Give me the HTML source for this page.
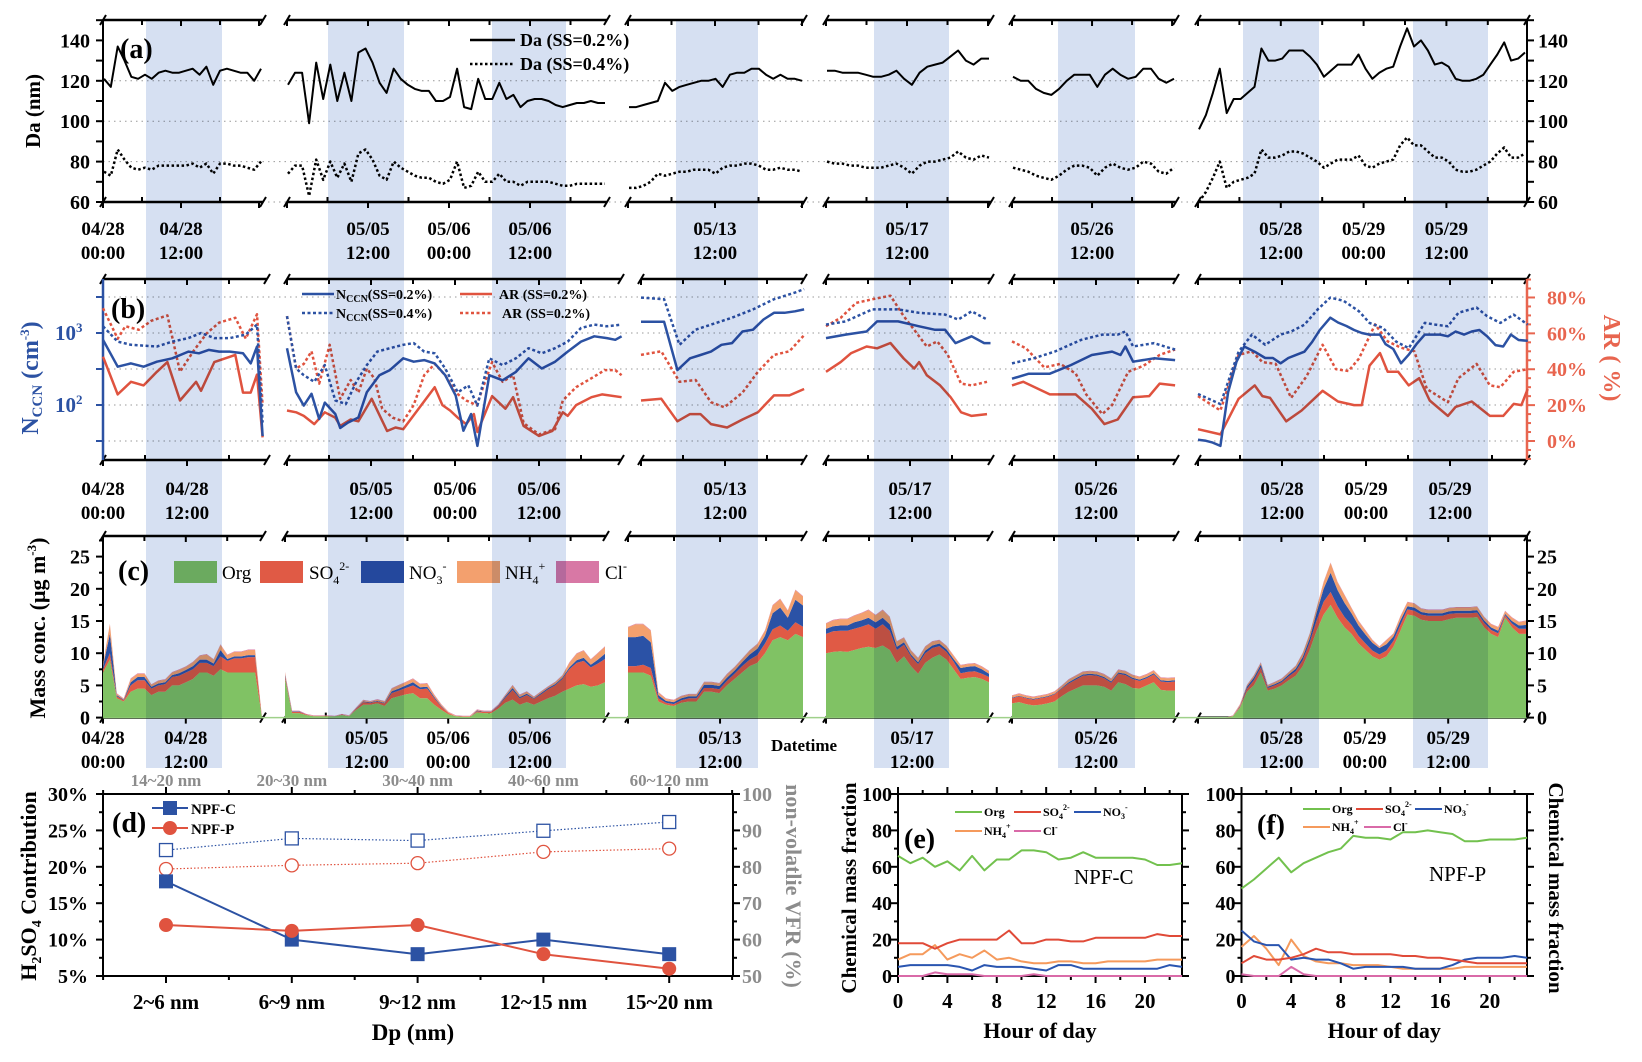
<!DOCTYPE html>
<html><head><meta charset="utf-8"><style>
html,body{margin:0;padding:0;background:#fff;}
svg{display:block;font-family:"Liberation Serif",serif;font-weight:bold;}
</style></head><body>
<svg id="chart" width="1642" height="1062" viewBox="0 0 1642 1062" xmlns="http://www.w3.org/2000/svg"></svg>
<script>
// ===== Panel (a) data: Da (nm), hourly per segment =====
const daSS02 = [
 [121,117,137,130,122,121,123,121,124,125,124,124,125,126,123,127,118,125,126,125,124,124,120,126],
 [118,124,124,99,129,111,128,110,124,110,134,136,129,119,114,126,121,118,116,115,115,110,110,112,126,107,106,121,111,111,119,111,113,107,110,111,111,110,108,107,108,109,109,110,109,109],
 [107,107,108,109,110,119,115,117,118,119,120,120,121,117,123,124,124,126,126,123,121,123,121,121,120],
 [125,125,124,124,124,123,122,122,123,125,121,118,124,127,128,129,132,135,130,128,131,131],
 [122,120,120,116,114,113,116,120,123,123,123,117,123,126,123,121,122,126,126,121,119,121],
 [96,103,114,126,104,111,111,114,117,136,130,130,131,135,135,135,132,128,122,125,128,128,128,133,126,121,124,126,127,137,146,137,140,135,128,129,127,121,120,120,121,123,128,133,139,130,131,134]
];
const daSS04 = [
 [75,73,86,81,77,76,77,76,78,78,78,78,78,79,77,79,74,79,79,78,78,77,76,80],
 [74,78,78,63,81,71,80,72,79,70,84,86,81,73,71,80,77,75,73,72,72,70,69,71,80,67,68,75,70,70,74,70,70,68,70,70,70,70,69,68,68,69,69,69,69,69],
 [67,67,68,70,74,73,74,75,75,76,76,76,74,77,78,78,79,79,78,76,76,77,76,76,75],
 [80,79,79,78,78,77,77,77,78,79,77,74,78,80,80,81,82,85,82,81,83,82],
 [77,76,75,73,72,71,73,76,78,78,77,73,77,79,77,76,77,80,79,75,74,77],
 [60,65,72,80,67,70,71,72,74,86,82,82,83,85,85,84,82,80,77,79,81,81,81,83,78,77,79,80,81,88,92,88,88,85,82,82,80,76,75,75,76,78,80,84,87,82,82,84]
];
// ===== Panel (b) data: [hour since segment start, value] =====
const nccn02 = [
 [[0,805],[2.1,340],[4,378],[5.8,340],[7.7,400],[9.9,445],[12.2,552],[13.7,522],[15.1,582],[16.6,552],[18.1,552],[20,522],[21.1,378],[22,650],[22.8,37]],
 [[0,615],[1.3,150],[2.4,98],[3.5,143],[4.6,64],[5.4,108],[6.9,75],[7.6,48],[8.7,57],[10.2,67],[11.4,150],[13.2,259],[14.7,305],[16.6,445],[18.1,400],[19.6,421],[21.1,378],[22.6,259],[24.1,135],[25.2,44],[26.3,75],[27.2,27],[28.9,259],[30.8,220],[32.7,288],[34.5,445],[36.4,321],[38.3,400],[40.1,552],[42,760],[43.9,900],[45.7,850],[46.9,805],[47.8,900]],
 [[0,1430],[3.3,1430],[5.2,305],[7,445],[8.5,495],[10,552],[11.5,685],[13,723],[14.5,1050],[16,1110],[17.5,1540],[19,1910],[20.5,1910],[22,2000],[23.3,2130]],
 [[0,850],[2.8,950],[5.8,1050],[7.3,1450],[10.3,1450],[13.3,1240],[15.5,1110],[17,1110],[18.5,723],[20.8,900],[22.6,723],[23.5,723]],
 [[0,232],[2.4,272],[5.4,272],[8.4,358],[11.4,495],[14.3,552],[15.5,495],[16.2,650],[17.3,400],[20.3,445],[23.3,420]],
 [[0,33],[1,32],[2.1,30],[3.2,27],[4.3,150],[5.5,400],[6.6,650],[8.1,550],[9.6,450],[10.7,450],[11.8,380],[12.9,450],[14.1,500],[15.2,550],[16.3,750],[17.4,1100],[18.9,1630],[20,1400],[21.2,1250],[22.3,1100],[23.4,1000],[24.5,950],[26,950],[26.8,700],[27.9,600],[29,380],[30.1,500],[31.2,700],[32.4,950],[33.5,950],[34.6,950],[35.7,900],[36.8,1050],[38,950],[39.1,1050],[40.2,1100],[41.3,900],[42.5,680],[43.6,650],[44.7,950],[45.8,800],[47.1,780]]
];
const nccn04 = [
 [[0,1240],[2.1,760],[4,685],[7.7,650],[9.9,760],[12.2,850],[14,1000],[15.9,850],[18.1,850],[20.4,950],[22,1310],[22.8,57]],
 [[0,1715],[1.3,321],[2.4,259],[3.9,210],[5.4,358],[6.9,116],[8.4,103],[9.9,210],[11.4,358],[12.9,552],[14.7,615],[16.6,685],[18.1,723],[19.6,552],[21.1,522],[22.6,321],[24.4,150],[25.9,187],[27.2,98],[28.9,445],[30.8,358],[32.7,445],[34.5,615],[36.4,522],[38.3,615],[40.1,760],[42,1175],[43.9,1310],[45.7,1240],[47.8,1310]],
 [[0,3100],[3.3,2950],[5.5,685],[7.8,1110],[10,1310],[13,1630],[16,2130],[19,2950],[22,3640],[23.3,4070]],
 [[0,1310],[2.8,1450],[6.6,2130],[10.3,2130],[13.3,1910],[17,1800],[18.9,1540],[20.8,2000],[23,1540]],
 [[0,378],[3.1,445],[6.1,552],[9.9,805],[12.9,950],[15.1,950],[16.2,1050],[17.3,650],[20.3,723],[22.6,615],[23.3,590]],
 [[0,142],[3.2,103],[5.8,550],[7.7,950],[9.6,685],[11.8,950],[13.3,1050],[15.2,1300],[17.1,2130],[18.9,3100],[20.8,2800],[23,2000],[24.5,1380],[26.4,1180],[28.3,760],[30.1,615],[32.4,1380],[33.9,1310],[35.7,1240],[37.2,1910],[39.8,2250],[41.3,1710],[43.2,1380],[45.1,1800],[47.1,1310]]
];
const ar02 = [
 [[0,47],[2.1,26],[4,33],[5.8,31],[7.7,38.6],[9.2,44],[11,22.6],[13.3,33],[14,28],[15.9,44],[18.9,48],[20,27],[21.1,27],[22,37],[22.8,2]],
 [[0,17],[1.3,16],[2.4,14],[3.9,9.4],[5.4,16],[6.9,13],[7.6,8.4],[9.1,12],[10.2,11],[12.1,23.5],[14.3,5.6],[15.5,7.5],[16.6,6.6],[18.8,18],[21.1,30],[22.2,20],[23.3,17],[24.4,13],[25.6,9.4],[26.7,15],[27.2,5],[29.3,25],[31.2,18],[32.3,24.4],[33.8,8.4],[36,2.8],[37.9,5.6],[39.4,16],[40.1,14],[41.3,20],[43.5,24.4],[45,26],[47.8,24.4]],
 [[0,22.6],[2.9,23.5],[5.2,11],[7,15],[8.5,15],[10,9.4],[12.3,7.5],[14.5,12],[16.7,16],[19,25.4],[21.2,25.4],[23.3,29]],
 [[0,38.6],[2.1,44],[3.6,49],[5.8,52.7],[7.3,51.7],[9.2,54.6],[11.1,46],[12.6,40.4],[13.3,44],[14.4,36.7],[16.3,31],[17.8,24.4],[19.3,16],[20.8,14],[23,15]],
 [[0,31],[1.6,33],[5.4,26],[9.1,26],[11.4,18],[13.2,9.4],[15.1,12],[17.3,24.4],[19.6,25],[21.1,32],[23.3,31]],
 [[0,6.6],[3.2,3.7],[5.8,23.5],[8.1,31],[9.2,25],[10.3,24],[12.6,11],[14.8,17],[17.8,28],[20,22],[22.3,20],[23.4,20],[24.5,42],[26,49],[27.1,38.6],[28.6,38.6],[30.1,31],[31.6,35],[33.1,22.6],[35.7,14],[36.8,19],[39.1,22],[41.7,14],[43.6,14],[45.1,20.7],[46.2,20],[47.1,29]]
];
const ar04 = [
 [[0,74],[2.1,57],[3.2,64],[5.1,62],[6.9,67],[9.2,70],[11,38.6],[12.9,50],[14.8,60],[16.6,66],[18.9,68.7],[20.4,57],[22,70.6],[22.8,20]],
 [[0,69.6],[1.3,40.4],[2.4,43],[3.5,50],[4.6,32],[6.1,53.6],[7.6,23.5],[9.1,34],[10.2,27],[11.4,40.4],[12.5,34.8],[13.6,18],[15.1,13],[16.6,11],[18.1,20],[19.6,36.7],[21.1,43],[22.6,36.7],[24.1,27],[25.6,22.6],[27.1,20],[29.3,44],[30.8,33],[32.3,36.7],[33.8,10],[36,3.7],[38.3,6.6],[39.4,22.6],[41.3,30],[43.5,35],[45.4,39.5],[46.9,39.5],[47.8,36.7]],
 [[0,48],[2.9,50],[5.5,33],[7.8,34],[10,21.6],[11.9,18.8],[14.5,27],[16.7,38.6],[19,48],[21.2,50],[23.3,59]],
 [[0,64],[2.1,68.7],[4.3,77],[6.6,79],[9.2,81],[11.1,69.6],[12.6,62],[14.4,52.7],[15.9,55.5],[17.4,48],[19.3,32],[20.8,31],[23,33]],
 [[0,55.5],[2,51.7],[4.6,41],[6.9,43],[9.1,37.6],[10.6,26],[12.9,15],[14.3,20],[16.6,38.6],[18.8,42],[21.1,48],[23.3,51]],
 [[0,25],[3.2,17],[5.8,48],[7.7,50],[9.2,44],[11.1,43],[13.3,24],[15.5,36],[17.8,53.6],[19.7,40],[21.5,39],[23,46],[25.3,65],[27.1,55.5],[29,52],[30.9,50],[32.7,29],[35.7,21.6],[37.2,35],[39.8,43],[41.7,31],[43.2,30],[45.1,38.6],[47.1,40]]
];
// ===== Panel (c) data: mass conc (ug/m3), hourly per segment =====
const orgC = [
 [7,9,3,2.5,4,4.5,4.5,3.5,4,4,5,5,5.5,6,7,7,6.5,7.5,7,7,7,7,7,0],
 [6,0.7,0.7,0.4,0.2,0.2,0.2,0.2,0.4,0.2,1.2,2,2,2.2,1.8,3,3.3,3.6,3.8,3,3,2,1.2,0.5,0.2,0.1,0.1,0.8,0.7,0.7,1.4,2.3,2.8,2,2.4,2,2.5,3,3.4,4,4.5,5,5.2,4.8,5,5.5],
 [7,7,7,6.5,2.5,2,1.8,2.3,2.5,2.5,4,4,3.8,5,6,7,8,8.5,10,12,12.5,12,13,12.5],
 [10,10.2,10.3,10.2,10.5,10.8,11,10.8,11.2,10.5,8.5,9.5,8,6.8,8.5,9.3,9.8,9,7.5,6,6.2,6.3,6,5.5],
 [2.2,2.4,2.1,1.9,2,2.2,2.5,3.3,4,4.5,5,5,5,4.8,4.2,5.5,5.2,4.6,4.5,5,5.5,4.3,4.2,4.2],
 [0,0,0,0,0,0.2,1.5,4,5,7,4.2,4.5,5,5.8,6.5,8,10.5,13.5,16,17.5,15.5,14,13,11.5,10.5,9.5,9,9.5,11,13.5,16,15.8,15.2,15,15,15,15.3,15.5,15.5,15.5,15.6,14,13,12.5,15.5,14,13,13]
];
const so4C = [
 [0.5,1,0.3,0.2,1,1.3,1.3,1,1,1.2,1.3,1.5,1.5,1.5,1.5,1.5,1.5,2,1.8,2.2,2.2,2.4,2.4,0],
 [0.4,0.2,0.2,0.1,0,0,0,0,0.1,0,0.2,0.4,0.3,0.3,0.4,0.8,0.9,1,1.2,1.4,1.5,1,0.5,0.2,0,0,0,0.2,0.2,0.2,0.4,0.8,1.5,1,1.1,0.9,1.1,1.4,1.6,2,3,3.5,3.6,3,3.4,3.6],
 [1,1,1.2,1.2,0.5,0.3,0.3,0.4,0.5,0.5,0.6,0.6,0.6,0.7,0.8,1,1,1.2,1.5,1.7,1.8,1.5,1.8,1.6],
 [3,3.2,3.2,3.3,3.3,3.3,3.5,3,3.3,3,2,1.8,1.5,1.5,1.5,1.5,1.3,1.2,1.2,0.9,0.9,0.9,0.8,0.8],
 [0.8,0.9,0.9,0.9,1,1,1.1,1.2,1.3,1.4,1.5,1.6,1.5,1.3,1.2,1.3,1.4,1.4,1.2,1.1,1.2,1.3,1.3,1.4],
 [0,0,0,0,0,0,0.2,0.5,0.8,0.8,0.4,0.5,0.5,0.6,0.7,0.9,1.2,1.6,2,2,1.8,1.6,1.4,1.2,1,0.9,0.8,0.9,0.9,0.9,0.8,0.8,0.8,0.8,0.8,0.8,0.8,0.7,0.7,0.7,0.7,0.7,0.6,0.6,0.4,0.6,0.8,0.8]
];
const no3C = [
 [0.5,3,0.2,0.1,0.5,0.5,0.5,0.3,0.3,0.3,0.3,0.4,0.4,0.5,0.5,0.5,0.4,1,0.3,0.3,0.3,0.3,0.3,0],
 [0.3,0.1,0.1,0,0,0,0,0,0,0,0.05,0.1,0.1,0.1,0.1,0.3,0.3,0.4,0.5,0.3,0.3,0.2,0.1,0,0,0,0,0.1,0.05,0.05,0.1,0.2,0.3,0.2,0.2,0.1,0.2,0.2,0.2,0.2,0.3,0.4,0.5,0.4,0.6,0.8],
 [4.5,4.5,4.5,4,0.5,0.3,0.3,0.3,0.3,0.3,0.5,0.5,0.5,0.5,0.5,0.6,0.8,1,1.2,2.5,2.8,2,3.5,3.3],
 [0.8,0.8,0.8,0.8,1,1,1,1,1,1,0.5,0.4,0.3,0.3,0.4,0.4,0.4,0.4,0.4,0.8,0.8,0.8,0.7,0.5],
 [0.1,0.1,0.1,0.1,0.1,0.1,0.1,0.1,0.2,0.2,0.2,0.2,0.2,0.2,0.2,0.2,0.2,0.2,0.2,0.2,0.2,0.2,0.2,0.2],
 [0,0,0,0,0,0,0.1,0.3,0.4,0.4,0.2,0.2,0.2,0.3,0.4,0.5,0.6,1.2,2,3,2.5,2.2,1.8,1.6,1.4,1.2,1,1,0.7,0.7,0.5,0.5,0.4,0.4,0.4,0.4,0.4,0.4,0.4,0.4,0.4,0.4,0.4,0.4,0.2,0.4,0.5,0.6]
];
const nh4C = [
 [0.3,1.5,0.2,0.1,0.5,0.5,0.5,0.3,0.4,0.4,0.4,0.5,0.5,0.6,0.6,0.8,0.6,0.8,0.6,0.7,0.7,0.8,0.8,0],
 [0.3,0,0,0,0.1,0.1,0.1,0,0,0.1,0.05,0.2,0.1,0.2,0.2,0.4,0.5,0.5,0.5,0.5,0.5,0.3,0.2,0.1,0.1,0.1,0.1,0.1,0.05,0.05,0.1,0.2,0.4,0.3,0.3,0.2,0.2,0.2,0.3,0.3,0.7,1,1.1,0.8,1,1.1],
 [1.5,2,1.8,1.8,0.4,0.3,0.3,0.3,0.3,0.3,0.4,0.4,0.4,0.5,0.5,0.5,0.6,0.7,0.8,1.2,1.3,1.1,1.5,1.4],
 [0.8,0.9,1,1,1,1.1,1.2,1.1,1.2,1.1,0.8,0.7,0.6,0.6,0.6,0.6,0.5,0.5,0.5,0.4,0.4,0.4,0.4,0.4],
 [0.3,0.3,0.3,0.3,0.3,0.3,0.3,0.3,0.4,0.4,0.4,0.4,0.4,0.4,0.4,0.4,0.4,0.4,0.4,0.4,0.4,0.4,0.4,0.4],
 [0,0,0,0,0,0.1,0.2,0.2,0.3,0.3,0.2,0.3,0.3,0.3,0.4,0.6,0.7,0.7,1,1.5,1.2,1.2,0.8,0.7,0.6,0.4,0.2,0.6,0.4,0.6,0.6,0.6,0.5,0.5,0.5,0.5,0.5,0.5,0.5,0.5,0.5,0.5,0.5,0.5,0.4,0.5,0.5,0.6]
];
const clC = [[0.1,0.3,0.1,0.1,0.1,0.1,0.1,0.1,0.1,0.1,0.1,0.1,0.1,0.1,0.1,0.1,0.1,0.1,0.1,0.1,0.1,0.1,0.1,0]];
// ===== Panel (d) data =====
const dpCats = ['2~6 nm','6~9 nm','9~12 nm','12~15 nm','15~20 nm'];
const topCats = ['14~20 nm','20~30 nm','30~40 nm','40~60 nm','60~120 nm'];
const npfC = [18,10,8,10,8];
const npfP = [12,11.2,12,8,6];
const vfrC = [84.6,87.8,87.2,89.9,92.3];
const vfrP = [79.4,80.4,81,84.1,85];
// ===== Panel (e)/(f) data: hour 0..23 =====
const eOrg = [66,62,65,60,63,58,66,58,64,64,69,69,68,64,65,68,65,65,65,65,64,61,61,62];
const eSO4 = [18,18,18,15,18,20,20,20,20,25,18,18,20,20,19,19,21,21,21,21,21,23,22,22];
const eNO3 = [5,6,6,6,6,5,3,6,5,5,5,4,3,6,6,4,4,4,4,4,4,4,6,5];
const eNH4 = [9,12,12,17,9,12,10,14,9,10,8,7,7,8,8,7,7,8,8,8,8,9,9,9];
const eCl  = [0,0,0,2,1,1,1,0,0,0,0,1,0,0,0,0,0,0,0,0,0,0,0,0];
const fOrg = [48,53,59,65,57,62,65,68,70,77,76,76,75,79,79,80,79,78,74,74,75,75,75,76];
const fSO4 = [7,11,9,9,10,12,15,13,13,12,12,12,12,11,11,10,10,9,8,7,7,7,7,7];
const fNO3 = [25,19,17,17,9,10,9,9,7,4,5,5,5,5,4,4,4,6,9,10,10,10,11,10];
const fNH4 = [16,22,15,6,20,11,8,7,7,6,6,6,5,4,4,4,4,4,5,5,5,5,5,5];
const fCl  = [1,0,0,0,5,1,0,0,0,0,0,0,0,0,0,0,0,0,0,0,0,0,0,0];
const timeLabels = [[[0,'04/28','00:00'],[12,'04/28','12:00']],[[12,'05/05','12:00'],[24,'05/06','00:00'],[36,'05/06','12:00']],[[12,'05/13','12:00']],[[12,'05/17','12:00']],[[12,'05/26','12:00']],[[12,'05/28','12:00'],[24,'05/29','00:00'],[36,'05/29','12:00']]];

// ===== layout =====
const NS='http://www.w3.org/2000/svg';
const svg=document.getElementById('chart');
const BLUE='#2c52a3', RED='#e0533f', ARC='#e8654f', GRAY='#8c8c8c';
function mk(tag, attrs, name, parent){
  const el=document.createElementNS(NS,tag);
  for(const k in attrs) el.setAttribute(k,attrs[k]);
  
  
  (parent||svg).appendChild(el);
  return el;
}
function txt(x,y,html,attrs,name){ const t=mk('text',Object.assign({x:x,y:y},attrs||{}),name); t.innerHTML=html; return t; }
function ln(x1,y1,x2,y2,c,w,name,dash){ const a={x1:x1,y1:y1,x2:x2,y2:y2,stroke:c,'stroke-width':w}; if(dash)a['stroke-dasharray']=dash; return mk('line',a,name); }
function poly(pts,c,w,name,dash){ const a={points:pts.map(p=>p[0].toFixed(1)+','+p[1].toFixed(1)).join(' '),fill:'none',stroke:c,'stroke-width':w,'stroke-linejoin':'round'}; if(dash)a['stroke-dasharray']=dash; return mk('polyline',a,name); }

const segA={x0:[103,287,628,826,1012,1198],x1:[263,607,804,991,1176,1527],pph:[6.5,6.75,7.25,6.75,6.67,6.9]};
const segB={x0:[103,287,641,826,1012,1198],x1:[267,621,804,991,1176,1527],pph:[7,7,7,7,7,7]};
const segC={x0:[103,285,628,826,1012,1198],x1:[263,606,804,990,1176,1527],pph:[6.9,6.8,7.67,7.17,7,6.95]};
const shadeX=[[146,222],[328,404],[492,566],[676,758],[874,949],[1058,1135],[1243,1319],[1413,1488]];

// gridlines a,b
const ya=v=>202-(v-60)*2.02;
[60,80,100,120].forEach(v=>ln(103,ya(v),1540,ya(v),'#999',1,'gridline-a','1.5,4'));
const yb=v=>333-(Math.log10(v)-3)*72;
const yar=v=>441-v*1.794;
[3.5,3,2.5,2,1.5].forEach(e=>ln(103,333-(e-3)*72,1527,333-(e-3)*72,'#999',1,'gridline-b','1.5,4'));

// time axes
function segAxes(seg,top,bot,labY,pname){
  for(let s=0;s<6;s++){
    const x0=seg.x0[s],x1=seg.x1[s];
    [top,bot].forEach(y=>{
      ln(x0,y,x1,y,'#000',2.5,pname+'-axis-line');
      ln(x0-3,y+5,x0+3,y-5,'#000',2,pname+'-axis-break');
      ln(x1-3,y+5,x1+3,y-5,'#000',2,pname+'-axis-break');
    });
    for(let h=0;x0+h*seg.pph[s]<=x1-2;h+=6){
      const x=x0+h*seg.pph[s];
      if(h%12===0){ ln(x,bot,x,bot+6,'#000',2,pname+'-tick'); ln(x,top,x,top+6,'#000',2,pname+'-tick'); }
      else { ln(x,bot,x,bot-5,'#000',2,pname+'-tick'); ln(x,top,x,top+5,'#000',2,pname+'-tick'); }
    }
    timeLabels[s].forEach(t=>{
      const x=x0+t[0]*seg.pph[s];
      txt(x,labY,t[1],{'font-size':19,'text-anchor':'middle'},pname+'-date-label');
      txt(x,labY+24,t[2],{'font-size':19,'text-anchor':'middle'},pname+'-time-label');
    });
  }
}
segAxes(segA,20,202,235,'panel-a');
segAxes(segB,279,460,495,'panel-b');
segAxes(segC,536,717.6,744,'panel-c');

// ===== panel a =====
ln(103,20,103,202,'#000',2,'a-left-axis');
ln(1527,20,1527,202,'#000',2,'a-right-axis');
for(let v=60;v<=150;v+=10){
  const y=ya(v), maj=v%20===0;
  ln(96,y,103,y,'#000',2,'a-left-tick'); ln(1527,y,1534,y,'#000',2,'a-right-tick');
  if(maj){ txt(90,y+7,v,{'font-size':20,'text-anchor':'end'},'a-left-tick-label'); txt(1538,y+7,v,{'font-size':20},'a-right-tick-label'); }
}
function aX(s,i,n){ return segA.x0[s]+1+i*(segA.x1[s]-segA.x0[s]-3)/(n-1); }
daSS02.forEach((arr,s)=>poly(arr.map((v,i)=>[aX(s,i,arr.length),ya(v)]),'#000',2,'da-ss02-line'));
daSS04.forEach((arr,s)=>poly(arr.map((v,i)=>[aX(s,i,arr.length),ya(v)]),'#000',2.5,'da-ss04-line','2.5,2.5'));
txt(33,111,'Da (nm)',{'font-size':21,'text-anchor':'middle',transform:'rotate(-90 33 111)',dy:7},'a-y-axis-title');
txt(120,58,'(a)',{'font-size':28},'panel-a-label');
ln(470,40,515,40,'#000',2.5,'legend-da02-line');
txt(520,46,'Da (SS=0.2%)',{'font-size':18},'legend-da02-label');
ln(470,64,515,64,'#000',2.5,'legend-da04-line','2.5,2.5');
txt(520,70,'Da (SS=0.4%)',{'font-size':18},'legend-da04-label');

// ===== panel b =====
ln(103,279,103,460,BLUE,2.5,'b-left-axis');
ln(1527,279,1527,460,ARC,2.5,'b-right-axis');
[3.5,3,2.5,2,1.5].forEach(e=>{ ln(96,333-(e-3)*72,103,333-(e-3)*72,BLUE,2,'b-left-tick'); });
[[3,'10<tspan dy="-8" font-size="13">3</tspan>'],[2,'10<tspan dy="-8" font-size="13">2</tspan>']].forEach(t=>txt(55,333-(t[0]-3)*72+7,t[1],{'font-size':21,fill:BLUE},'b-left-tick-label'));
for(let v=-10;v<=90;v+=5){ const y=yar(v); if(y<279||y>460)continue; ln(1527,y,v%20===0?1535:1531,y,ARC,2,'b-right-tick'); }
[0,20,40,60,80].forEach(v=>txt(1547,yar(v)+7,v+'%',{'font-size':20,fill:ARC},'b-right-tick-label'));
function bX(s,h){ return segB.x0[s]+h*segB.pph[s]; }
function clampY(y){ return Math.max(281,Math.min(458,y)); }
ar04.forEach((a,s)=>poly(a.map(p=>[bX(s,p[0]),clampY(yar(p[1]))]),RED,2.5,'ar-ss04-line','3,2.5'));
ar02.forEach((a,s)=>poly(a.map(p=>[bX(s,p[0]),clampY(yar(p[1]))]),RED,2.5,'ar-ss02-line'));
nccn04.forEach((a,s)=>poly(a.map(p=>[bX(s,p[0]),clampY(yb(p[1]))]),BLUE,2.5,'nccn-ss04-line','3,2.5'));
nccn02.forEach((a,s)=>poly(a.map(p=>[bX(s,p[0]),clampY(yb(p[1]))]),BLUE,2.5,'nccn-ss02-line'));
txt(0,0,'N<tspan font-size="15" dy="4">CCN</tspan><tspan dy="-4"> (cm</tspan><tspan font-size="13" dy="-9">-3</tspan><tspan dy="9">)</tspan>',{'font-size':24,fill:BLUE,'text-anchor':'middle',transform:'translate(38,378) rotate(-90)'},'b-left-axis-title');
txt(0,0,'AR ( %)',{'font-size':24,fill:ARC,'text-anchor':'middle',transform:'translate(1604,358) rotate(90)'},'b-right-axis-title');
txt(111,318,'(b)',{'font-size':28},'panel-b-label');
ln(302,294,334,294,BLUE,2.5,'legend-nccn02-line');
txt(336,299,'N<tspan font-size="10" dy="3">CCN</tspan><tspan dy="-3">(SS=0.2%)</tspan>',{'font-size':14},'legend-nccn02-label');
ln(302,313,334,313,BLUE,2.5,'legend-nccn04-line','3,2.5');
txt(336,318,'N<tspan font-size="10" dy="3">CCN</tspan><tspan dy="-3">(SS=0.4%)</tspan>',{'font-size':14},'legend-nccn04-label');
ln(460,294,492,294,RED,2.5,'legend-ar02-line');
txt(499,299,'AR (SS=0.2%)',{'font-size':14},'legend-ar02-label');
ln(460,313,492,313,RED,2.5,'legend-ar04-line','3,2.5');
txt(502,318,'AR (SS=0.2%)',{'font-size':14},'legend-ar04-label');

// ===== panel c =====
const yc=v=>717.6-v*6.44;
ln(103,717.6,1527,717.6,'#9fd08a',1.5,'c-baseline');
ln(103,536,103,717.6,'#000',2,'c-left-axis');
ln(1527,536,1527,717.6,'#000',2,'c-right-axis');
for(let v=0;v<=27.5;v+=2.5){ const y=yc(v), maj=v%5===0;
  ln(maj?96:99,y,103,y,'#000',2,'c-left-tick'); ln(1527,y,maj?1534:1531,y,'#000',2,'c-right-tick');
  if(maj){ txt(90,y+7,v,{'font-size':20,'text-anchor':'end'},'c-left-tick-label'); txt(1537,y+7,v,{'font-size':20},'c-right-tick-label'); } }
const comps=[[orgC,'#80c264','org-area'],[so4C,'#e05a45','so4-area'],[no3C,'#2b52a6','no3-area'],[nh4C,'#f3a06e','nh4-area'],[clC,'#d878a5','cl-area']];
function pick(arrs,s,i,n){ const a=arrs[Math.min(s,arrs.length-1)]; return a[Math.min(a.length-1,Math.round(i*(a.length-1)/(n-1)))]; }
for(let s=0;s<6;s++){
  const n=orgC[s].length;
  const cx=i=>segC.x0[s]+i*(segC.x1[s]-segC.x0[s]-1)/(n-1);
  let base=new Array(n).fill(0);
  comps.forEach(c=>{
    const top=base.map((b,i)=>b+(c[0]===clC?0.08*(orgC[s][i]>0?1:0):pick(c[0],s,i,n)));
    const pts=top.map((v,i)=>cx(i).toFixed(1)+','+yc(v).toFixed(1)).concat(base.map((v,i)=>[i,v]).reverse().map(p=>cx(p[0]).toFixed(1)+','+yc(p[1]).toFixed(1)));
    mk('polygon',{points:pts.join(' '),fill:c[1],stroke:'none'},c[2]);
    base=top;
  });
}
txt(0,0,'Mass conc. (μg m<tspan font-size="13" dy="-9">-3</tspan><tspan dy="9">)</tspan>',{'font-size':22,'text-anchor':'middle',transform:'translate(45,628) rotate(-90)'},'c-y-axis-title');
txt(118,580,'(c)',{'font-size':28},'panel-c-label');
const leg=[[174,'#80c264','Org',222],[260,'#e05a45','SO<tspan font-size="12" dy="5">4</tspan><tspan font-size="12" dy="-14">2-</tspan>',309],[361,'#2b52a6','NO<tspan font-size="12" dy="5">3</tspan><tspan font-size="12" dy="-14">-</tspan>',409],[457,'#f3a06e','NH<tspan font-size="12" dy="5">4</tspan><tspan font-size="12" dy="-14">+</tspan>',505],[556,'#d878a5','Cl<tspan font-size="12" dy="-9">-</tspan>',605]];
leg.forEach(l=>{ mk('rect',{x:l[0],y:561,width:43,height:22,fill:l[1]},'legend-swatch'); txt(l[3],579,l[2],{'font-size':19,'font-weight':'normal'},'legend-label'); });
txt(771,751,'Datetime',{'font-size':17},'c-x-axis-title');

// day shading (multiply)
shadeX.forEach(r=>mk('rect',{x:r[0],y:21,width:r[1]-r[0],height:747,fill:'#d6e0f2',style:'mix-blend-mode:multiply'},'daytime-shading'));

// ===== panel d =====
const dX=i=>166+i*125.8;
const dYL=v=>976-(v-5)*7.28;
const dYR=v=>976-(v-50)*3.64;
mk('rect',{x:103,y:794,width:630,height:182,fill:'none',stroke:'#000','stroke-width':2},'d-plot-frame');
for(let v=5;v<=30;v+=2.5){ const y=dYL(v); ln(v%5===0?96:99,y,103,y,'#000',2,'d-left-tick'); if(v%5===0) txt(88,y+7,v+'%',{'font-size':20,'text-anchor':'end'},'d-left-tick-label'); }
for(let v=50;v<=100;v+=5){ const y=dYR(v); ln(733,y,v%10===0?740:737,y,'#000',2,'d-right-tick'); if(v%10===0) txt(742,y+7,v,{'font-size':20,fill:GRAY},'d-right-tick-label'); }
for(let k=-0.5;k<=4.5;k+=0.5){ const x=dX(k); if(x<103||x>733)continue; ln(x,976,x,Number.isInteger(k)?983:980,'#000',2,'d-bottom-tick'); ln(x,794,x,Number.isInteger(k)?787:790,'#000',2,'d-top-tick'); }
dpCats.forEach((c,i)=>txt(dX(i),1009,c,{'font-size':21,'text-anchor':'middle'},'d-x-tick-label'));
topCats.forEach((c,i)=>txt(dX(i),786,c,{'font-size':17,'text-anchor':'middle',fill:GRAY},'d-top-tick-label'));
txt(413,1040,'Dp (nm)',{'font-size':23,'text-anchor':'middle'},'d-x-axis-title');
poly(vfrC.map((v,i)=>[dX(i),dYR(v)]),BLUE,1.2,'vfr-npfc-line','1.5,2');
poly(vfrP.map((v,i)=>[dX(i),dYR(v)]),RED,1.2,'vfr-npfp-line','1.5,2');
vfrC.forEach((v,i)=>mk('rect',{x:dX(i)-6.5,y:dYR(v)-6.5,width:13,height:13,fill:'#fff',stroke:BLUE,'stroke-width':1.3},'vfr-npfc-marker'));
vfrP.forEach((v,i)=>mk('circle',{cx:dX(i),cy:dYR(v),r:6.5,fill:'#fff',stroke:RED,'stroke-width':1.3},'vfr-npfp-marker'));
poly(npfC.map((v,i)=>[dX(i),dYL(v)]),BLUE,2,'npfc-line');
poly(npfP.map((v,i)=>[dX(i),dYL(v)]),RED,2,'npfp-line');
npfC.forEach((v,i)=>mk('rect',{x:dX(i)-7,y:dYL(v)-7,width:14,height:14,fill:BLUE},'npfc-marker'));
npfP.forEach((v,i)=>mk('circle',{cx:dX(i),cy:dYL(v),r:7,fill:RED},'npfp-marker'));
ln(152,808,188,808,BLUE,2,'legend-npfc-line'); mk('rect',{x:163,y:801,width:14,height:14,fill:BLUE},'legend-npfc-marker');
txt(191,814,'NPF-C',{'font-size':15},'legend-npfc-label');
ln(152,828,188,828,RED,2,'legend-npfp-line'); mk('circle',{cx:170,cy:828,r:7,fill:RED},'legend-npfp-marker');
txt(191,834,'NPF-P',{'font-size':15},'legend-npfp-label');
txt(112,832,'(d)',{'font-size':28},'panel-d-label');
txt(0,0,'H<tspan font-size="14" dy="5">2</tspan><tspan dy="-5">SO</tspan><tspan font-size="14" dy="5">4</tspan><tspan dy="-5"> Contribution</tspan>',{'font-size':22,'text-anchor':'middle',transform:'translate(36,886) rotate(-90)'},'d-left-axis-title');
txt(0,0,'non-volatlie VFR (%)',{'font-size':22,'text-anchor':'middle',fill:GRAY,transform:'translate(786,886) rotate(90)'},'d-right-axis-title');

// ===== panels e, f =====
function hourPanel(x0,x1,series,pn){
  const X=h=>x0+h*(x1-x0)/23, Y=v=>976-v*1.82;
  mk('rect',{x:x0,y:794,width:x1-x0,height:182,fill:'none',stroke:'#000','stroke-width':2},pn+'-plot-frame');
  for(let v=0;v<=100;v+=10){ const y=Y(v),maj=v%20===0; ln(maj?x0-7:x0-4,y,x0,y,'#000',2,pn+'-left-tick'); ln(x1,y,maj?x1+7:x1+4,y,'#000',2,pn+'-right-tick'); if(maj) txt(x0-6,y+7,v,{'font-size':20,'text-anchor':'end'},pn+'-y-tick-label'); }
  for(let h=0;h<=22;h+=2){ const x=X(h); ln(x,976,x,h%4===0?983:980,'#000',2,pn+'-x-tick'); ln(x,794,x,h%4===0?787:790,'#000',2,pn+'-x-top-tick'); if(h%4===0) txt(x,1008,h,{'font-size':21,'text-anchor':'middle'},pn+'-x-tick-label'); }
  const cols=['#72c14e','#e04a38','#2a55b0','#f59a5c','#d96aa8'];
  const names=['org','so4','no3','nh4','cl'];
  for(let k=4;k>=0;k--) poly(series[k].map((v,h)=>[X(h),Y(v)]),cols[k],2,pn+'-'+names[k]+'-line');
  txt((x0+x1)/2,1038,'Hour of day',{'font-size':22,'text-anchor':'middle'},pn+'-x-axis-title');
  return cols;
}
const cols=hourPanel(898,1182,[eOrg,eSO4,eNO3,eNH4,eCl],'panel-e');
hourPanel(1241.5,1527,[fOrg,fSO4,fNO3,fNH4,fCl],'panel-f');
function chemLegend(lx,r1,r2){
  const labs=['Org','SO<tspan font-size="8" dy="3">4</tspan><tspan font-size="8" dy="-9">2-</tspan>','NO<tspan font-size="8" dy="3">3</tspan><tspan font-size="8" dy="-9">-</tspan>','NH<tspan font-size="8" dy="3">4</tspan><tspan font-size="8" dy="-9">+</tspan>','Cl<tspan font-size="8" dy="-5">-</tspan>'];
  const pos=[[lx[0],r1],[lx[1],r1],[lx[2],r1],[lx[0],r2],[lx[3],r2]];
  pos.forEach((p,k)=>{ ln(p[0],p[1],p[0]+27,p[1],cols[k],2,'legend-chem-line'); txt(p[0]+29,p[1]+4,labs[k],{'font-size':12},'legend-chem-label'); });
}
chemLegend([955,1014,1074,1014],812,831);
chemLegend([1303,1356,1415,1364],809,827);
txt(904,848,'(e)',{'font-size':28},'panel-e-label');
txt(1257,834,'(f)',{'font-size':28},'panel-f-label');
txt(1074,884,'NPF-C',{'font-size':21,'font-weight':'normal'},'npf-c-annotation');
txt(1429,881,'NPF-P',{'font-size':21,'font-weight':'normal'},'npf-p-annotation');
txt(0,0,'Chemical mass fraction',{'font-size':21,'text-anchor':'middle',transform:'translate(856,888) rotate(-90)'},'e-y-axis-title');
txt(0,0,'Chemical mass fraction',{'font-size':21,'text-anchor':'middle',transform:'translate(1549,888) rotate(90)'},'f-y-axis-title');
</script>
</body></html>
